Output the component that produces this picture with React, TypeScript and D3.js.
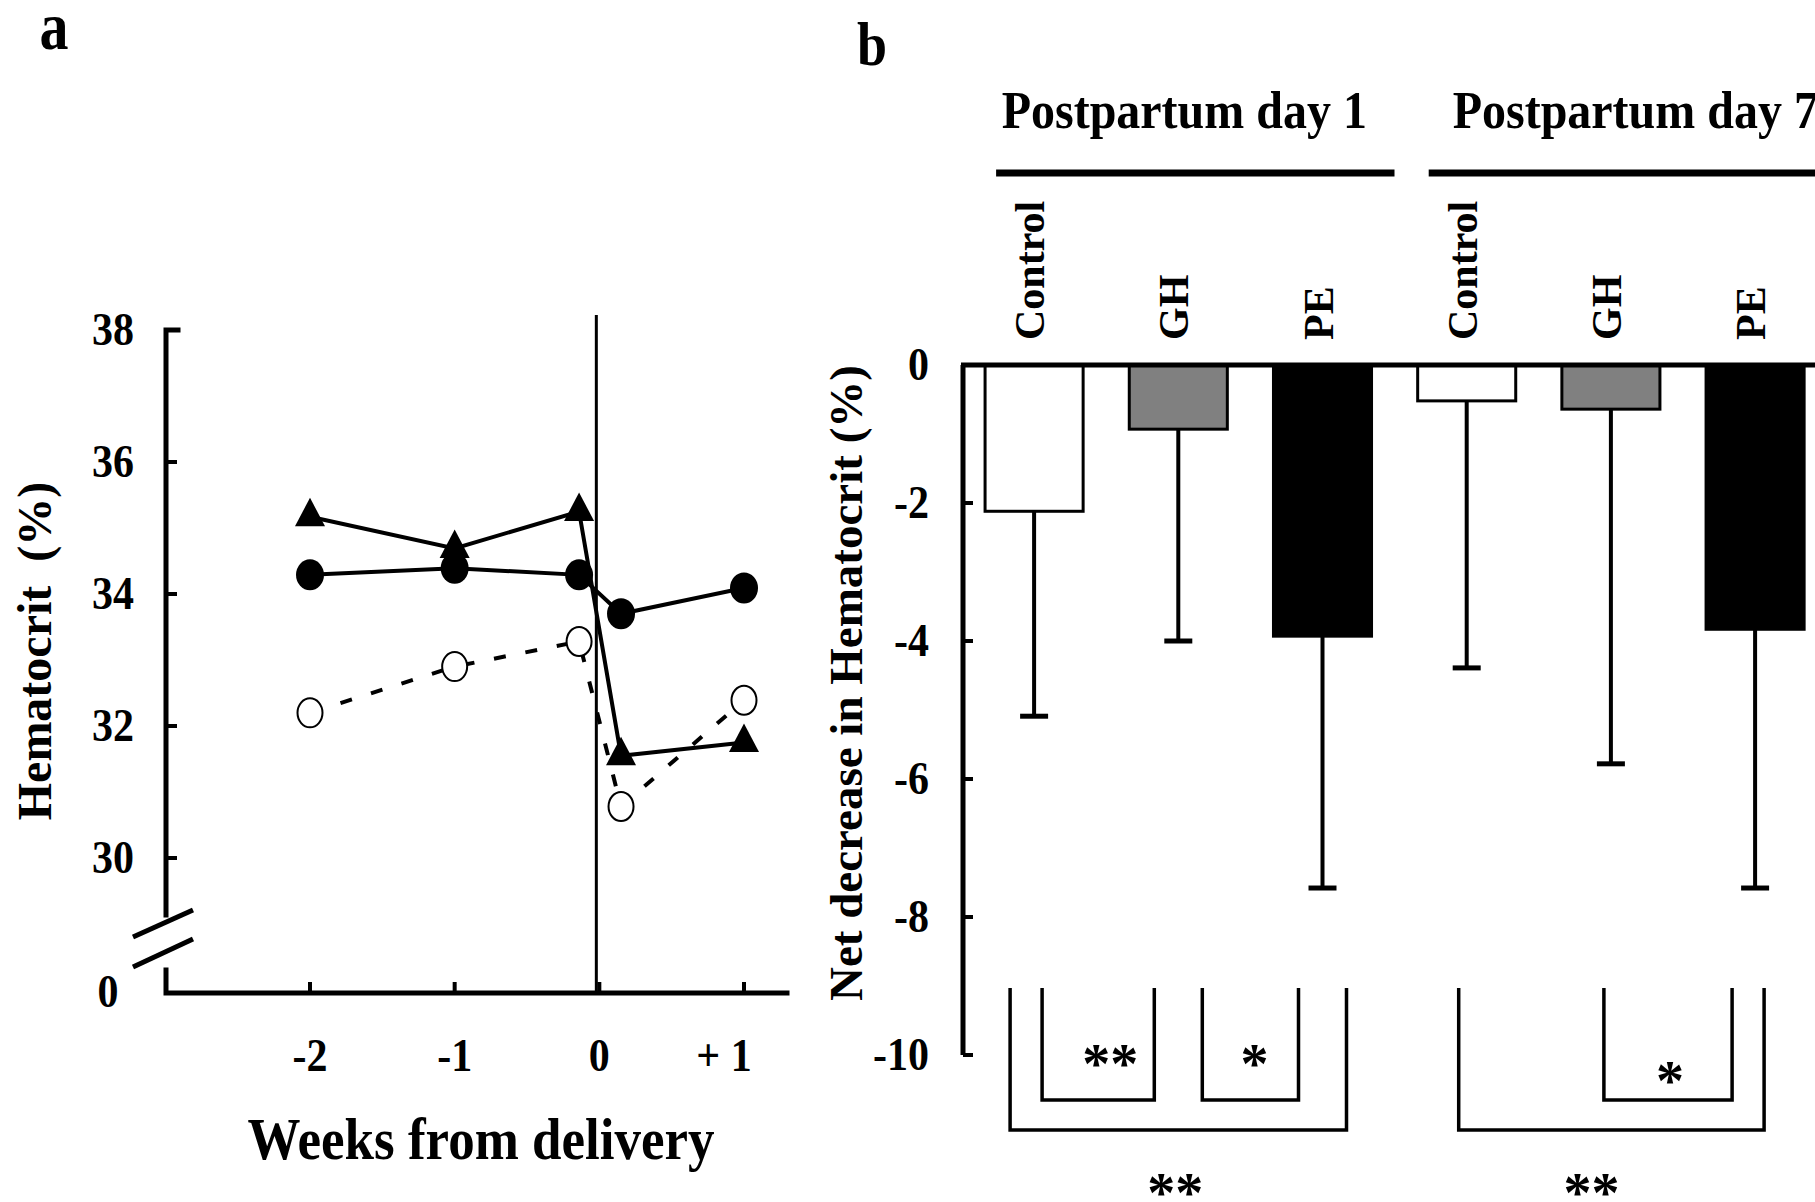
import * as d3 from "d3";
import React from "react";

// ---- panel a: hematocrit over time ----
const weeks = [-2, -1, -0.14, 0.15, 1];
const triangleSeries = [35.17, 34.69, 35.25, 31.55, 31.75];
const filledCircleSeries = [34.29, 34.39, 34.29, 33.7, 34.09];
const openCircleSeries = [32.2, 32.9, 33.28, 30.78, 32.39];
const weekTicks = [-2, -1, 0, 1];
const weekTickLabels = ["-2", "-1", "0", "+ 1"];
const hctTicks = [30, 32, 34, 36, 38];

// ---- panel b: net decrease ----
const groups = ["Postpartum day 1", "Postpartum day 7"];
const treatments = ["Control", "GH", "PE"];
const barKeys = ["d1-Control", "d1-GH", "d1-PE", "d7-Control", "d7-GH", "d7-PE"];
const barMeans = [-2.12, -0.93, -3.93, -0.52, -0.64, -3.83];
const barErrors = [2.97, 3.07, 3.65, 3.87, 5.14, 3.75];
const decreaseTicks = [0, -2, -4, -6, -8, -10];
const comparisons = [
  { a: 0, b: 2, label: "**", outer: true },
  { a: 0, b: 1, label: "**", outer: false },
  { a: 1, b: 2, label: "*", outer: false },
  { a: 3, b: 5, label: "**", outer: true },
  { a: 4, b: 5, label: "*", outer: false },
];

const FONT = "'Liberation Serif', 'Times New Roman', serif";
const fills: Record<string, string> = { Control: "#ffffff", GH: "#808080", PE: "#000000" };

// layout tweaks for the brackets (left inset, right inset, star dx, star y)
const bracketLayout = [
  { l: -24, r: 24, dx: -3, sy: 1185 },
  { l: 8, r: -24, dx: 12, sy: 1056 },
  { l: 24, r: -24, dx: 4, sy: 1056 },
  { l: -8, r: 9, dx: -20, sy: 1185 },
  { l: -7, r: -23, dx: 2, sy: 1073 },
];

const T = ({ x, y, k = 1, size, anchor = "middle", children, rotate = 0 }: any) => (
  <text
    transform={`translate(${x},${y}) rotate(${rotate}) scale(1,${k})`}
    fontFamily={FONT}
    fontWeight="bold"
    fontSize={size}
    textAnchor={anchor}
    fill="#000"
  >
    {children}
  </text>
);

const App = () => {
  const W = 1815;
  const H = 1202;

  // panel a scales
  const xA = d3.scaleLinear([-2, 1], [310, 744]);
  const yA = d3.scaleLinear([30, 38], [858, 330]);
  const axisAx = 166;
  const zeroAy = 993;
  const line = d3
    .line<number>()
    .x((_, i) => xA(weeks[i]))
    .y((d) => yA(d));

  // panel b scales
  const xB = d3.scaleBand(barKeys, [962, 962 + 6 * 144.2]).paddingInner(0.32).paddingOuter(0.16);
  const yB = d3.scaleLinear([-10, 0], [1055, 365]);
  const axisBx = 963;
  const cx = (i: number) => (xB(barKeys[i]) as number) + xB.bandwidth() / 2;
  const triPath = d3.symbol(d3.symbolTriangle, 390)() as string;

  return (
    <svg width={W} height={H} style={{ position: "absolute", left: 0, top: 0, background: "#fff" }}>
      <rect width={W} height={H} fill="#fff" />

      {/* ===== panel a ===== */}
      <T x={54} y={49} size={58} k={1.15}>a</T>

      {/* axes */}
      <g stroke="#000" strokeWidth={5} fill="none" strokeLinecap="square">
        <path d={`M${axisAx + 12},${yA(38)}H${axisAx}V915`} />
        <path d={`M${axisAx},970V${zeroAy}H787`} />
      </g>
      <g stroke="#000" strokeWidth={5}>
        <line x1={133} y1={937} x2={193} y2={910} />
        <line x1={133} y1={967} x2={193} y2={939} />
      </g>
      <g stroke="#000" strokeWidth={4}>
        {hctTicks.map((t) => (
          <line key={t} x1={axisAx} x2={axisAx + 11} y1={yA(t)} y2={yA(t)} />
        ))}
        {weekTicks.map((t) => (
          <line key={t} x1={xA(t)} x2={xA(t)} y1={zeroAy} y2={zeroAy - 11} />
        ))}
      </g>
      {hctTicks.map((t) => (
        <T key={t} x={134} y={yA(t) + 15} size={42} k={1.12} anchor="end">{t}</T>
      ))}
      <T x={108} y={1007} size={42} k={1.12}>0</T>
      {weekTicks.map((t, i) => (
        <T key={t} x={xA(t) + (t === 1 ? -20 : 0)} y={1071} size={42} k={1.12}>{weekTickLabels[i]}</T>
      ))}
      <T x={481} y={1159} size={53} k={1.1}>Weeks from delivery</T>
      <T x={51} y={651} size={48} rotate={-90}>{"Hematocrit\u00a0\u00a0(%)"}</T>

      {/* delivery line */}
      <line x1={xA(0) - 3} x2={xA(0) - 3} y1={315} y2={zeroAy} stroke="#000" strokeWidth={3} />

      {/* series lines */}
      <g fill="none" stroke="#000" strokeWidth={4}>
        <path d={line(triangleSeries) as string} />
        <path d={line(filledCircleSeries) as string} />
        <path d={line(openCircleSeries) as string} strokeDasharray="12 20" />
      </g>
      {/* markers */}
      {triangleSeries.map((v, i) => (
        <path key={`t${i}`} d={triPath} transform={`translate(${xA(weeks[i])},${yA(v)}) scale(1,1.1)`} fill="#000" />
      ))}
      {filledCircleSeries.map((v, i) => (
        <ellipse key={`c${i}`} cx={xA(weeks[i])} cy={yA(v)} rx={14} ry={15.5} fill="#000" />
      ))}
      {openCircleSeries.map((v, i) => (
        <ellipse key={`o${i}`} cx={xA(weeks[i])} cy={yA(v)} rx={12.5} ry={14.5} fill="#fff" stroke="#000" strokeWidth={2} />
      ))}

      {/* ===== panel b ===== */}
      <T x={872} y={65} size={54} k={1.15}>b</T>

      {groups.map((g, gi) => {
        const first = cx(gi * 3);
        const last = cx(gi * 3 + 2);
        const lx1 = first - 38;
        const lx2 = gi === 0 ? last + 72 : W + 10;
        return (
          <g key={g}>
            <T x={gi === 0 ? (first + last) / 2 + 6 : first - 14} y={128} size={48} k={1.1} anchor={gi === 0 ? "middle" : "start"}>{g}</T>
            <line x1={lx1} x2={lx2} y1={173} y2={173} stroke="#000" strokeWidth={7} />
          </g>
        );
      })}
      {barKeys.map((k, i) => (
        <T key={k} x={cx(i) + 10} y={340} size={42} rotate={-90} anchor="start">{treatments[i % 3]}</T>
      ))}

      {/* bars */}
      {barKeys.map((k, i) => (
        <rect
          key={k}
          x={xB(k)}
          y={yB(0)}
          width={xB.bandwidth()}
          height={yB(barMeans[i]) - yB(0)}
          fill={fills[treatments[i % 3]]}
          stroke="#000"
          strokeWidth={3}
        />
      ))}
      {/* error bars */}
      <g stroke="#000" strokeWidth={4}>
        {barKeys.map((k, i) => {
          const lo = yB(barMeans[i] - barErrors[i]);
          return (
            <g key={k}>
              <line x1={cx(i)} x2={cx(i)} y1={yB(barMeans[i])} y2={lo} />
              <line x1={cx(i) - 14} x2={cx(i) + 14} y1={lo} y2={lo} strokeWidth={5} />
            </g>
          );
        })}
      </g>

      {/* axis b */}
      <g stroke="#000" fill="none">
        <line x1={axisBx - 2} x2={W + 5} y1={yB(0)} y2={yB(0)} strokeWidth={5} />
        <line x1={axisBx} x2={axisBx} y1={yB(0)} y2={yB(-10)} strokeWidth={5} />
        {decreaseTicks.map((t) => (
          <line key={t} x1={axisBx} x2={axisBx + 10} y1={yB(t)} y2={yB(t)} strokeWidth={4} />
        ))}
      </g>
      {decreaseTicks.map((t) => (
        <T key={t} x={929} y={yB(t) + 15} size={42} k={1.08} anchor="end">{t}</T>
      ))}
      <T x={862} y={683} size={47} rotate={-90}>Net decrease in Hematocrit (%)</T>

      {/* significance brackets */}
      <g stroke="#000" strokeWidth={3.5} fill="none">
        {comparisons.map((c, i) => {
          const L = bracketLayout[i];
          const x1 = cx(c.a) + L.l;
          const x2 = cx(c.b) + L.r;
          const yb = c.outer ? 1130 : 1100;
          return <path key={i} d={`M${x1},988V${yb}H${x2}V988`} />;
        })}
      </g>
      {comparisons.map((c, i) => {
        const L = bracketLayout[i];
        const x1 = cx(c.a) + L.l;
        const x2 = cx(c.b) + L.r;
        return (
          <T key={i} x={(x1 + x2) / 2 + L.dx} y={L.sy + 27} size={56}>{c.label}</T>
        );
      })}
    </svg>
  );
};

export default App;
